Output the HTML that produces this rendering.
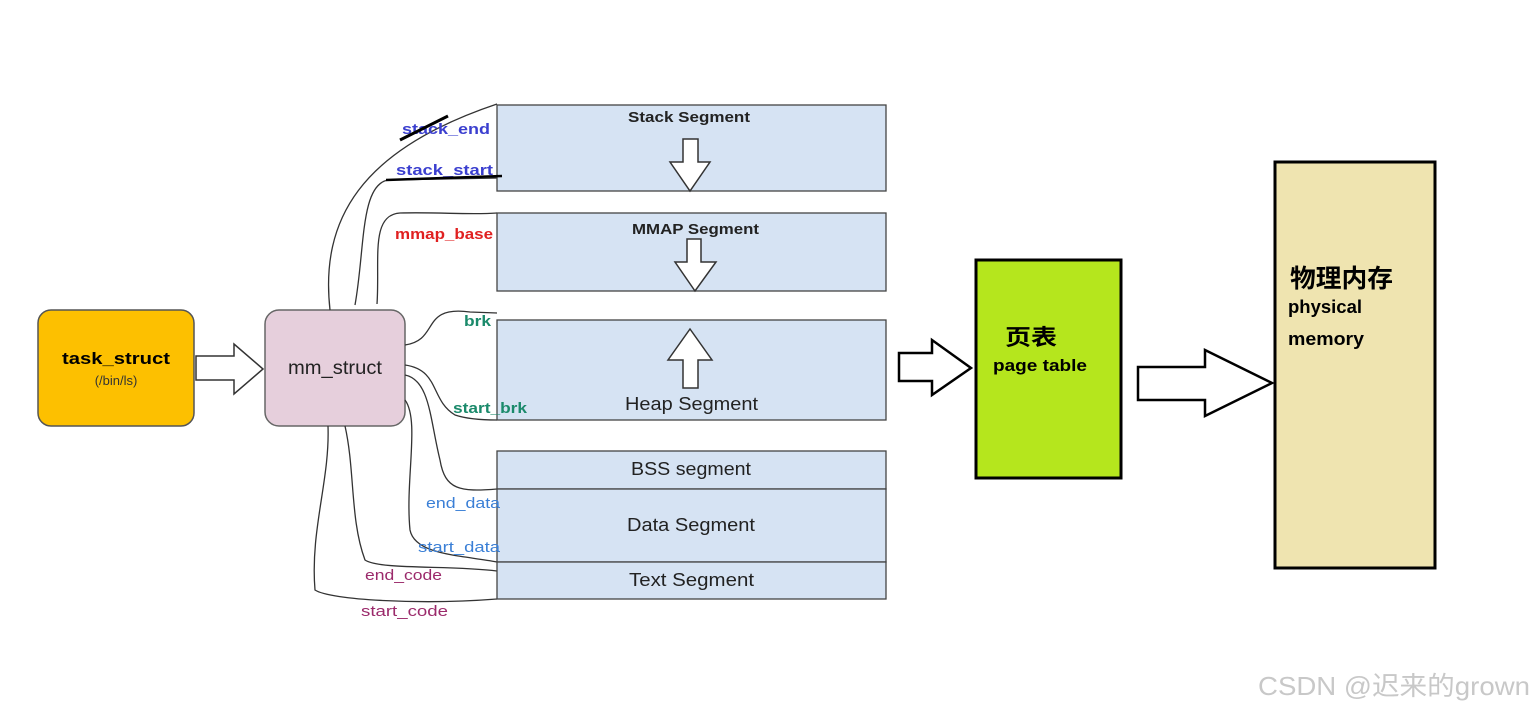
<!DOCTYPE html>
<html><head><meta charset="utf-8"><style>
html,body{margin:0;padding:0;background:#fff;}
svg{display:block;font-family:"Liberation Sans","Noto Sans CJK SC",sans-serif;}
</style></head><body>
<svg width="1537" height="711" viewBox="0 0 1537 711" xmlns="http://www.w3.org/2000/svg">
<rect x="38" y="310" width="156" height="116" rx="13" fill="#FDC000" stroke="#555" stroke-width="1.5"/>
<text x="62" y="364" font-size="17" font-weight="bold" textLength="108" lengthAdjust="spacingAndGlyphs">task_struct</text>
<text x="116" y="385" font-size="13" text-anchor="middle" fill="#333">(/bin/ls)</text>
<polygon points="196,356 234,356 234,344 263,369 234,394 234,380 196,380" fill="#fff" stroke="#333" stroke-width="1.5"/>
<rect x="265" y="310" width="140" height="116" rx="14" fill="#E6CFDC" stroke="#666" stroke-width="1.5"/>
<text x="288" y="374" font-size="19" fill="#222" textLength="94" lengthAdjust="spacingAndGlyphs">mm_struct</text>
<g fill="none" stroke="#333" stroke-width="1.3">
<path d="M330,310 C320,220 360,150 497,104"/>
<path d="M355,305 C365,250 360,185 388,180 L500,178"/>
<path d="M377,304 C380,260 370,215 400,213 C440,212 470,215 497,213"/>
<path d="M405,345 C440,340 420,305 470,312 L497,313"/>
<path d="M405,365 C440,370 430,400 455,415 C470,420 490,420 497,420"/>
<path d="M405,375 C430,380 430,420 440,460 C445,490 460,492 497,489"/>
<path d="M405,400 C420,420 405,480 410,530 C415,555 460,555 497,562"/>
<path d="M345,426 C355,470 350,520 365,560 C380,570 450,565 497,571"/>
<path d="M328,426 C330,480 310,530 315,590 C330,600 420,605 497,599"/>
</g>
<g fill="#D6E3F3" stroke="#444" stroke-width="1.3">
<rect x="497" y="105" width="389" height="86"/>
<rect x="497" y="213" width="389" height="78"/>
<rect x="497" y="320" width="389" height="100"/>
<rect x="497" y="451" width="389" height="38"/>
<rect x="497" y="489" width="389" height="73"/>
<rect x="497" y="562" width="389" height="37"/>
</g>
<g font-size="15" font-weight="bold" lengthAdjust="spacingAndGlyphs">
<text x="402" y="134" fill="#3B3FCF" textLength="88" lengthAdjust="spacingAndGlyphs">stack_end</text>
<text x="396" y="175" fill="#3B3FCF" textLength="97" lengthAdjust="spacingAndGlyphs">stack_start</text>
<text x="395" y="239" fill="#E02020" textLength="98" lengthAdjust="spacingAndGlyphs">mmap_base</text>
<text x="464" y="326" fill="#1B8A6B" textLength="27" lengthAdjust="spacingAndGlyphs">brk</text>
<text x="453" y="413" fill="#1B8A6B" textLength="74" lengthAdjust="spacingAndGlyphs">start_brk</text>
<text x="426" y="508" fill="#3A7FD6" font-weight="normal" textLength="74" lengthAdjust="spacingAndGlyphs">end_data</text>
<text x="418" y="552" fill="#3A7FD6" font-weight="normal" textLength="82" lengthAdjust="spacingAndGlyphs">start_data</text>
<text x="365" y="580" fill="#9B2A6B" font-weight="normal" textLength="77" lengthAdjust="spacingAndGlyphs">end_code</text>
<text x="361" y="616" fill="#9B2A6B" font-weight="normal" textLength="87" lengthAdjust="spacingAndGlyphs">start_code</text>
</g>
<line x1="400" y1="140" x2="448" y2="116" stroke="#000" stroke-width="3"/>
<line x1="386" y1="180" x2="502" y2="176" stroke="#000" stroke-width="2.5"/>
<g fill="#222">
<text x="628" y="122" font-weight="bold" font-size="15" textLength="122" lengthAdjust="spacingAndGlyphs">Stack Segment</text>
<text x="632" y="234" font-weight="bold" font-size="15" textLength="127" lengthAdjust="spacingAndGlyphs">MMAP Segment</text>
<text x="625" y="410" font-size="18" textLength="133" lengthAdjust="spacingAndGlyphs">Heap Segment</text>
<text x="631" y="475" font-size="18" textLength="120" lengthAdjust="spacingAndGlyphs">BSS segment</text>
<text x="627" y="531" font-size="18" textLength="128" lengthAdjust="spacingAndGlyphs">Data Segment</text>
<text x="629" y="586" font-size="18" textLength="125" lengthAdjust="spacingAndGlyphs">Text Segment</text>
</g>
<g fill="#fff" stroke="#333" stroke-width="1.5">
<polygon points="683,139 698,139 698,162 710,162 690,191 670,162 683,162"/>
<polygon points="687,239 701,239 701,262 716,262 695,291 675,262 687,262"/>
<polygon points="690,329 712,360 698,360 698,388 683,388 683,360 668,360"/>
</g>
<polygon points="899,353 932,353 932,340 971,368 932,395 932,381 899,381" fill="#fff" stroke="#000" stroke-width="2.5"/>
<rect x="976" y="260" width="145" height="218" fill="#B5E61D" stroke="#000" stroke-width="3"/>
<text x="1005" y="345" font-size="22" font-weight="bold" textLength="52" lengthAdjust="spacingAndGlyphs">页表</text>
<text x="993" y="371" font-size="17" font-weight="bold" textLength="94" lengthAdjust="spacingAndGlyphs">page table</text>
<polygon points="1138,367 1205,367 1205,350 1272,383 1205,416 1205,400 1138,400" fill="#fff" stroke="#000" stroke-width="2.5"/>
<rect x="1275" y="162" width="160" height="406" fill="#EFE4B0" stroke="#000" stroke-width="3"/>
<text x="1290" y="287" font-size="25" font-weight="bold" textLength="103" lengthAdjust="spacingAndGlyphs">物理内存</text>
<text x="1288" y="313" font-size="18" font-weight="bold" textLength="74" lengthAdjust="spacingAndGlyphs">physical</text>
<text x="1288" y="345" font-size="18" font-weight="bold" textLength="76" lengthAdjust="spacingAndGlyphs">memory</text>
<text x="1258" y="695" font-size="26" fill="#C8C8C8" textLength="272" lengthAdjust="spacingAndGlyphs">CSDN @迟来的grown</text>
</svg>
</body></html>
